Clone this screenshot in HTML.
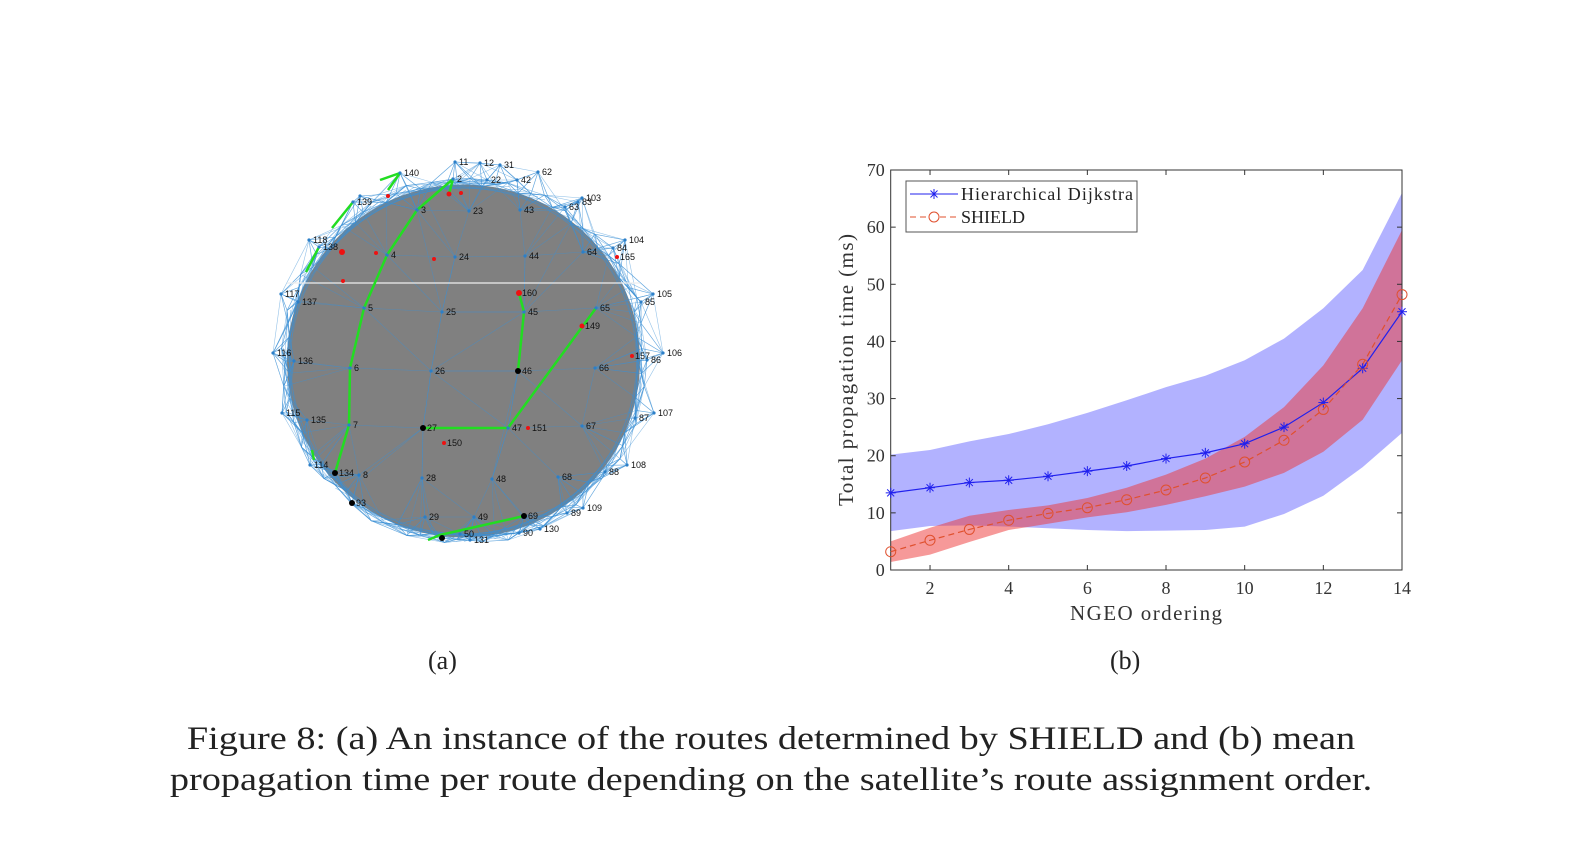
<!DOCTYPE html>
<html><head><meta charset="utf-8"><style>
body{margin:0;background:#fff;width:1582px;height:844px;overflow:hidden;position:relative;font-family:"Liberation Serif",serif}
.cap{position:absolute;font-family:"Liberation Serif",serif;color:#222}
svg text{font-family:"Liberation Serif",serif}
</style></head><body>
<svg id="net" width="1582" height="844" style="position:absolute;left:0;top:0"></svg>
<svg id="chart" width="1582" height="844" style="position:absolute;left:0;top:0"></svg>
<div class="cap" style="left:428px;top:646px;font-size:26px">(a)</div>
<div class="cap" style="left:1110px;top:646px;font-size:26px">(b)</div>
<div class="cap" style="left:0;width:1542px;top:719px;font-size:33px;line-height:41px;text-align:center;transform:scaleX(1.16);transform-origin:771px 0">Figure 8: (a) An instance of the routes determined by SHIELD and (b) mean<br>propagation time per route depending on the satellite’s route assignment order.</div>
<script>
const xs=[1,2,3,4,5,6,7,8,9,10,11,12,13,14];
const hdMean=[13.5,14.4,15.3,15.7,16.4,17.3,18.2,19.5,20.5,22.1,25,29.3,35.3,45.2];
const hdLow=[6.8,7.7,7.8,7.6,7.3,7.0,6.8,6.9,7.0,7.6,9.8,13,18,24];
const hdHigh=[20.2,21,22.5,23.8,25.5,27.5,29.7,32,34,36.7,40.5,45.8,52.5,66];
const shMean=[3.2,5.2,7.1,8.7,9.9,10.9,12.3,14,16.1,18.9,22.7,28.1,36,48.2];
const shLow=[1.4,2.7,4.9,7,8.1,9.2,10.1,11.4,12.9,14.6,17,20.7,26.3,36.7];
const shHigh=[5,7.4,9.5,10.5,11.3,12.6,14.4,16.7,19.5,23.3,28.5,35.8,45.8,59.5];
const xTicks=[2,4,6,8,10,12,14];
const yTicks=[0,10,20,30,40,50,60,70];
const NS='http://www.w3.org/2000/svg';
function mk(p,t,a){const e=document.createElementNS(NS,t);for(const k in a)e.setAttribute(k,a[k]);p.appendChild(e);return e;}
const L=890.7,R=1402,T=170,B=570;
const X=v=>L+(v-1)*(R-L)/13, Y=v=>B-v*(B-T)/70;
const c=document.getElementById('chart');
function band(lo,hi,col,name){let d='M'+xs.map((x,i)=>X(x)+','+Y(hi[i])).join('L')+'L'+xs.slice().reverse().map((x,j)=>{const i=xs.length-1-j;return X(x)+','+Y(lo[i])}).join('L')+'Z';
const p=mk(c,'path',{d:d,fill:col,'fill-opacity':0.5});

}
band(hdLow,hdHigh,'#6666ff','hd-range-band');
band(shLow,shHigh,'#ee3333','shield-range-band');
const ax=mk(c,'rect',{x:L,y:T,width:R-L,height:B-T,fill:'none',stroke:'#333','stroke-width':1});


xTicks.forEach(v=>{mk(c,'line',{x1:X(v),x2:X(v),y1:B,y2:B-5,stroke:'#333'});mk(c,'line',{x1:X(v),x2:X(v),y1:T,y2:T+5,stroke:'#333'});
const t=mk(c,'text',{x:X(v),y:B+24,'text-anchor':'middle','font-size':18,fill:'#333'});t.textContent=v;

});
yTicks.forEach(v=>{mk(c,'line',{x1:L,x2:L+5,y1:Y(v),y2:Y(v),stroke:'#333'});mk(c,'line',{x1:R,x2:R-5,y1:Y(v),y2:Y(v),stroke:'#333'});
const t=mk(c,'text',{x:L-6,y:Y(v)+6,'text-anchor':'end','font-size':18,fill:'#333'});t.textContent=v;

});
const xl=mk(c,'text',{x:1146,y:620,'text-anchor':'middle','font-size':21,fill:'#333',textLength:152});xl.textContent='NGEO ordering';


const yl=mk(c,'text',{x:0,y:0,transform:'translate(853,370) rotate(-90)','text-anchor':'middle','font-size':21,fill:'#333',textLength:272});yl.textContent='Total propagation time (ms)';


const hl=mk(c,'polyline',{points:xs.map((x,i)=>X(x)+','+Y(hdMean[i])).join(' '),fill:'none',stroke:'#2020ee','stroke-width':1.2});


const sl=mk(c,'polyline',{points:xs.map((x,i)=>X(x)+','+Y(shMean[i])).join(' '),fill:'none',stroke:'#e0502e','stroke-width':1.2,'stroke-dasharray':'6,4'});


function star(x,y){const g=mk(c,'g',{stroke:'#2020ee','stroke-width':1});
mk(g,'line',{x1:x-5,x2:x+5,y1:y,y2:y});mk(g,'line',{x1:x,x2:x,y1:y-5,y2:y+5});mk(g,'line',{x1:x-3.5,x2:x+3.5,y1:y-3.5,y2:y+3.5});mk(g,'line',{x1:x-3.5,x2:x+3.5,y1:y+3.5,y2:y-3.5});}
xs.forEach((x,i)=>star(X(x),Y(hdMean[i])));
xs.forEach((x,i)=>{const o=mk(c,'circle',{cx:X(x),cy:Y(shMean[i]),r:5,fill:'none',stroke:'#e0502e','stroke-width':1});

});
const lg=mk(c,'g',{});
mk(lg,'rect',{x:906,y:181,width:231,height:51,fill:'#fff',stroke:'#555'});
mk(lg,'line',{x1:910,x2:958,y1:194,y2:194,stroke:'#2020ee'});
mk(lg,'line',{x1:929,x2:939,y1:194,y2:194,stroke:'#2020ee'});mk(lg,'line',{x1:934,x2:934,y1:189,y2:199,stroke:'#2020ee'});mk(lg,'line',{x1:930.5,x2:937.5,y1:190.5,y2:197.5,stroke:'#2020ee'});mk(lg,'line',{x1:930.5,x2:937.5,y1:197.5,y2:190.5,stroke:'#2020ee'});
mk(lg,'line',{x1:910,x2:958,y1:217,y2:217,stroke:'#e0502e','stroke-dasharray':'6,4'});
mk(lg,'circle',{cx:934,cy:217,r:5,fill:'#fff',stroke:'#e0502e'});
let t1=mk(lg,'text',{x:961,y:200,'font-size':18,fill:'#222',textLength:172});t1.textContent='Hierarchical Dijkstra';
let t2=mk(lg,'text',{x:961,y:223,'font-size':18,fill:'#222'});t2.textContent='SHIELD';

// ---- network sphere (a)
const n=document.getElementById('net');
const cx=463.5,cy=361,r=176.5;
const sph=mk(n,'circle',{cx:cx,cy:cy,r:r,fill:'#808080'});


const nodes={2:[453,179],3:[417,210],23:[469,211],43:[520,210],63:[565,207],4:[387,255],24:[455,257],44:[525,256],64:[583,252],5:[364,308],25:[442,312],45:[524,312],65:[596,308],6:[350,368],26:[431,371],46:[518,371],66:[595,368],7:[349,425],27:[423,428],47:[508,428],67:[582,426],8:[359,475],28:[422,478],48:[492,479],68:[558,477],29:[425,517],49:[474,517],69:[524,516],117:[281,294],137:[298,302],116:[273,353],136:[294,361],115:[282,413],135:[307,420],114:[310,465],134:[335,473],118:[309,240],138:[319,247],139:[353,202],140:[400,173],105:[653,294],85:[641,302],106:[663,353],86:[647,360],107:[654,413],87:[635,418],108:[627,465],88:[605,472],104:[625,240],84:[613,248],103:[582,198],83:[578,202],109:[583,508],89:[567,513],42:[517,180],22:[487,180],62:[538,172],93:[352,503],90:[519,533],131:[470,540],50:[460,534],130:[540,529],11:[455,162],12:[480,163],31:[500,165],130.5:[360,196]};
const ring=[];for(let k=0;k<90;k++){const a=k/90*2*Math.PI;const rr=r+((k*37)%11)-2;ring.push([cx+rr*Math.cos(a),cy+rr*Math.sin(a)]);}
const pts=Object.values(nodes).concat(ring);
const mesh=mk(n,'g',{stroke:'#3a8fd6','stroke-width':0.6,'stroke-opacity':0.55,fill:'none'});


pts.forEach((p,i)=>{const d=pts.map((q,j)=>[Math.hypot(p[0]-q[0],p[1]-q[1]),j]).filter(a=>a[1]!==i).sort((a,b)=>a[0]-b[0]);
const near=(Math.hypot(p[0]-cx,p[1]-cy)>r-25)?7:5;
for(let k=0;k<near;k++){const q=pts[d[k][1]];mk(mesh,'line',{x1:p[0],y1:p[1],x2:q[0],y2:q[1]});}
const q=pts[d[near+3][1]];mk(mesh,'line',{x1:p[0],y1:p[1],x2:q[0],y2:q[1]});});
for(let k=0;k<40;k++){const a1=-Math.PI*0.85+k*0.017*Math.PI*2, a2=a1+0.5;mk(mesh,'line',{x1:cx+r*Math.cos(a1),y1:cy+r*Math.sin(a1),x2:cx+(r+4)*Math.cos(a2),y2:cy+(r+4)*Math.sin(a2)});
const b1=Math.PI*0.15+k*0.017*Math.PI*2,b2=b1+0.5;mk(mesh,'line',{x1:cx+r*Math.cos(b1),y1:cy+r*Math.sin(b1),x2:cx+(r+4)*Math.cos(b2),y2:cy+(r+4)*Math.sin(b2)});}
const wl=mk(n,'line',{x1:287,x2:640,y1:283,y2:283,stroke:'#eee','stroke-width':1.2});


const routes=[[[453,179],[417,210],[387,255],[364,308],[350,368],[349,425],[335,473]],[[519,293],[524,312],[518,371]],[[596,308],[508,428],[423,428]],[[400,173],[388,190]],[[319,247],[306,272]],[[353,202],[332,228]],[[524,516],[440,535],[428,540]],[[400,173],[380,180]],[[449,194],[453,179]],[[312,450],[314,460]]];
routes.forEach(rt=>{const p=mk(n,'polyline',{points:rt.map(a=>a.join(',')).join(' '),fill:'none',stroke:'#22dd22','stroke-width':2.5});

});
for(const k in nodes){const p=nodes[k];mk(n,'circle',{cx:p[0],cy:p[1],r:1.6,fill:'#2c7fc8'});
if(k.indexOf('.')<0){const t=mk(n,'text',{x:p[0]+4,y:p[1]+3,'font-size':9,fill:'#111'});t.setAttribute('style','font-family:"Liberation Sans",sans-serif');t.textContent=k;

}}
const reds=[[519,293,3],[582,326,2.5],[632,356,2],[528,428,2],[444,443,2],[342,252,3],[376,253,2],[434,259,2],[343,281,2],[617,257,2],[449,194,2.5],[461,193,2],[388,196,2]];
reds.forEach(p=>{const e=mk(n,'circle',{cx:p[0],cy:p[1],r:p[2],fill:'#ee1111'});});
[[518,371],[423,428],[335,473],[524,516],[352,503],[442,538]].forEach(p=>{const e=mk(n,'circle',{cx:p[0],cy:p[1],r:3,fill:'#000'});});
[['151',532,431],['150',447,446],['160',522,296],['149',585,329],['157',635,359],['165',620,260]].forEach(a=>{const t=mk(n,'text',{x:a[1],y:a[2],'font-size':9,fill:'#111'});t.setAttribute('style','font-family:"Liberation Sans",sans-serif');t.textContent=a[0];});
</script>
</body></html>
